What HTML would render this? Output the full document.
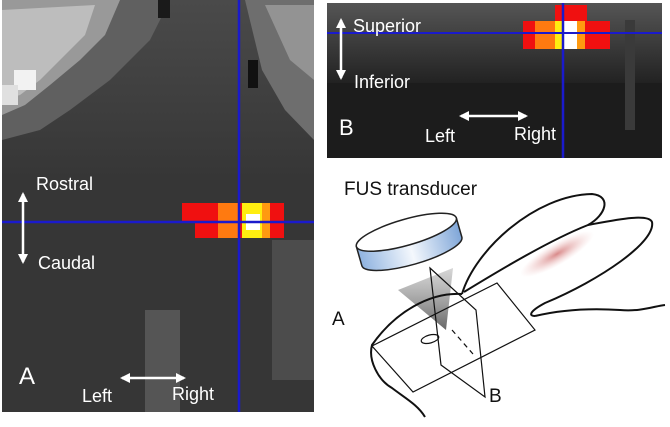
<!DOCTYPE html>
<html><head><meta charset="utf-8"><style>
body{margin:0;background:#fff;width:670px;height:427px;overflow:hidden}
svg{display:block}
text{font-family:"Liberation Sans",sans-serif}
</style></head><body>
<svg width="670" height="427" viewBox="0 0 670 427" xmlns="http://www.w3.org/2000/svg">
<defs>
<linearGradient id="cyl" x1="0" y1="0" x2="1" y2="0">
<stop offset="0" stop-color="#8fb3e0"/><stop offset="0.5" stop-color="#f4f8fd"/><stop offset="1" stop-color="#7fa6d8"/>
</linearGradient>
<linearGradient id="beam" x1="0" y1="0" x2="0" y2="1">
<stop offset="0" stop-color="#bbb" stop-opacity="0.6"/><stop offset="1" stop-color="#555" stop-opacity="0.9"/>
</linearGradient>
<radialGradient id="pink"><stop offset="0" stop-color="#d98a8a"/><stop offset="1" stop-color="#f0c8c8" stop-opacity="0"/></radialGradient>
<linearGradient id="bt" x1="0" y1="0" x2="0" y2="1"><stop offset="0" stop-color="#555"/><stop offset="1" stop-color="#222"/></linearGradient>
<linearGradient id="at" x1="0" y1="0" x2="0" y2="1"><stop offset="0" stop-color="#4a4a4a"/><stop offset="1" stop-color="#363636"/></linearGradient>
<marker id="ah" viewBox="0 0 10 10" refX="8" refY="5" markerWidth="4" markerHeight="4" orient="auto-start-reverse"><path d="M0,0L10,5L0,10z" fill="#fff"/></marker>
</defs>
<!-- Panel A -->
<rect x="2" y="0" width="312" height="412" fill="#363636"/>
<rect x="2" y="0" width="312" height="180" fill="url(#at)"/>
<polygon points="2,0 170,0 150,40 110,80 70,110 40,130 2,140" fill="#606060"/>
<polygon points="2,0 120,0 105,35 80,60 50,85 25,105 2,115" fill="#999"/>
<polygon points="2,10 95,5 85,35 60,60 40,80 20,95 2,100" fill="#bdbdbd"/>
<rect x="14" y="70" width="22" height="20" fill="#f2f2f2"/>
<rect x="2" y="85" width="16" height="20" fill="#e0e0e0"/>
<polygon points="245,0 314,0 314,140 285,110 262,70" fill="#6e6e6e"/>
<polygon points="265,5 314,5 314,80 290,60" fill="#939393"/>
<rect x="248" y="60" width="10" height="28" fill="#111"/>
<rect x="158" y="0" width="12" height="18" fill="#1a1a1a"/>
<rect x="145" y="310" width="35" height="102" fill="#555"/>
<rect x="272" y="240" width="42" height="140" fill="#4c4c4c"/>
<!-- heat A -->
<rect x="182" y="203" width="102" height="18" fill="#f01010"/>
<rect x="195" y="221" width="89" height="17" fill="#f01010"/>
<rect x="218" y="203" width="20" height="35" fill="#ff7a10"/>
<rect x="242" y="203" width="20" height="35" fill="#ffee10"/>
<rect x="262" y="203" width="8" height="35" fill="#ff9a10"/>
<rect x="246" y="214" width="14" height="16" fill="#fff"/>
<line x1="239" y1="0" x2="239" y2="412" stroke="#1a1acc" stroke-width="2.5"/>
<line x1="2" y1="222" x2="314" y2="222" stroke="#1a1acc" stroke-width="2.5"/>
<text x="36" y="190" font-size="18" fill="#fff">Rostral</text>
<text x="38" y="269" font-size="18" fill="#fff">Caudal</text>
<line x1="23" y1="194" x2="23" y2="262" stroke="#fff" stroke-width="2.5" marker-start="url(#ah)" marker-end="url(#ah)"/>
<text x="19" y="384" font-size="24" fill="#fff">A</text>
<line x1="122" y1="378" x2="184" y2="378" stroke="#fff" stroke-width="2.5" marker-start="url(#ah)" marker-end="url(#ah)"/>
<text x="82" y="402" font-size="18" fill="#fff">Left</text>
<text x="172" y="400" font-size="18" fill="#fff">Right</text>
<!-- Panel B -->
<rect x="327" y="3" width="335" height="155" fill="#1c1c1c"/>
<rect x="327" y="3" width="335" height="80" fill="url(#bt)"/>
<rect x="625" y="20" width="10" height="110" fill="#3a3a3a"/>
<rect x="555" y="5" width="32" height="16" fill="#f01010"/>
<rect x="523" y="21" width="87" height="28" fill="#f01010"/>
<rect x="535" y="21" width="22" height="28" fill="#ff7a10"/>
<rect x="555" y="21" width="8" height="28" fill="#ffee10"/>
<rect x="563" y="21" width="14" height="28" fill="#fff"/>
<rect x="577" y="21" width="8" height="28" fill="#ff9a10"/>
<line x1="563" y1="3" x2="563" y2="158" stroke="#1a1acc" stroke-width="2.5"/>
<line x1="327" y1="33" x2="662" y2="33" stroke="#1a1acc" stroke-width="2"/>
<text x="353" y="32" font-size="18" fill="#fff">Superior</text>
<text x="354" y="88" font-size="18" fill="#fff">Inferior</text>
<line x1="341" y1="20" x2="341" y2="78" stroke="#fff" stroke-width="2.5" marker-start="url(#ah)" marker-end="url(#ah)"/>
<text x="339" y="135" font-size="22" fill="#fff">B</text>
<line x1="461" y1="116" x2="526" y2="116" stroke="#fff" stroke-width="2.5" marker-start="url(#ah)" marker-end="url(#ah)"/>
<text x="425" y="142" font-size="18" fill="#fff">Left</text>
<text x="514" y="140" font-size="18" fill="#fff">Right</text>
<!-- Rabbit -->
<text x="344" y="195" font-size="19" fill="#111">FUS transducer</text>
<g transform="rotate(-16 408 238)">
<path d="M356,232 L356,252 A52,13 0 0 0 460,252 L460,232 Z" fill="url(#cyl)" stroke="#222" stroke-width="1.5"/>
<ellipse cx="408" cy="232" rx="52" ry="13" fill="#fff" stroke="#222" stroke-width="1.5"/>
</g>
<ellipse cx="557" cy="254" rx="42" ry="11" transform="rotate(-30 557 254)" fill="url(#pink)"/>
<polygon points="398,290 453,268 446,330" fill="url(#beam)"/>
<g fill="none" stroke="#111" stroke-width="2" stroke-linejoin="round">
<path d="M462,294 C475,250 535,195 592,194 C612,196 606,215 588,225 C550,240 500,270 464,292"/>
<path d="M588,225 C615,220 648,213 652,222 C656,242 600,280 545,303 C530,311 528,316 535,316"/>
<path d="M535,316 C560,310 590,308 620,310 C640,312 655,306 665,305"/>
<path d="M462,294 C430,292 395,312 372,345 C368,360 378,380 392,388 C405,398 418,405 425,417"/>
</g>
<g fill="none" stroke="#111" stroke-width="1.2">
<polygon points="372,346 497,283 535,330 413,392"/>
<polygon points="430,268 476,310 485,397 441,365"/>
<ellipse cx="430" cy="339" rx="9" ry="4" transform="rotate(-15 430 339)"/>
<line x1="452" y1="330" x2="473" y2="354" stroke-dasharray="5,4"/>
</g>
<text x="332" y="325" font-size="19" fill="#111">A</text>
<text x="489" y="402" font-size="19" fill="#111">B</text>
</svg>
</body></html>
